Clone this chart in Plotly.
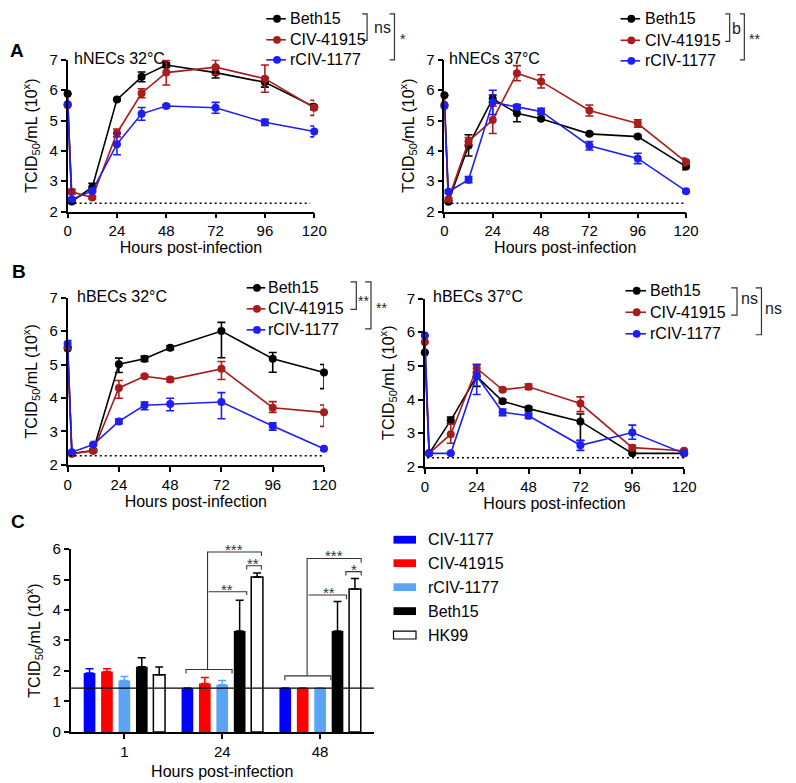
import plotly.graph_objects as go

W, H = 796, 783
FONT = "Liberation Sans, Arial, Helvetica, sans-serif"

# ---------------- data ----------------
hours = [0, 2, 12, 24, 36, 48, 72, 96, 120]
strains = ["Beth15", "CIV-41915", "rCIV-1177"]
line_colors = {"Beth15": "#000000", "CIV-41915": "#A81C1C", "rCIV-1177": "#1E1EF0"}
LOD_AB = 2.27

# A left: hNECs 32 C
nec32 = {
    "Beth15":    [5.88, 2.33, 2.80, 5.69, 6.44, 6.83, 6.58, 6.26, 5.45],
    "CIV-41915": [5.50, 2.65, 2.46, 4.59, 5.90, 6.58, 6.76, 6.38, 5.42],
    "rCIV-1177": [5.54, 2.40, 2.68, 4.22, 5.22, 5.48, 5.42, 4.94, 4.64],
}
nec32_up = {
    "Beth15":    [0, 0.05, 0.13, 0.03, 0.16, 0.08, 0.18, 0.16, 0.10],
    "CIV-41915": [0, 0.08, 0.05, 0.13, 0.15, 0.41, 0.24, 0.45, 0.25],
    "rCIV-1177": [0, 0.05, 0.05, 0.35, 0.21, 0.05, 0.18, 0.10, 0.18],
}
nec32_dn = nec32_up

# A right: hNECs 37 C
nec37 = {
    "Beth15":    [5.83, 2.32, 4.18, 5.72, 5.24, 5.06, 4.56, 4.47, 3.48],
    "CIV-41915": [5.52, 2.40, 4.32, 5.02, 6.56, 6.29, 5.33, 4.90, 3.63],
    "rCIV-1177": [5.48, 2.65, 3.05, 5.60, 5.45, 5.30, 4.17, 3.75, 2.67],
}
nec37_up = {
    "Beth15":    [0, 0.04, 0.35, 0.12, 0.28, 0.05, 0.04, 0.04, 0.10],
    "CIV-41915": [0, 0.05, 0.12, 0.45, 0.25, 0.22, 0.18, 0.12, 0.13],
    "rCIV-1177": [0, 0.05, 0.10, 0.40, 0.08, 0.10, 0.14, 0.17, 0.05],
}
nec37_dn = nec37_up

# B left: hBECs 32 C
bec32 = {
    "Beth15":    [5.48, 2.34, 2.43, 5.01, 5.17, 5.50, 6.00, 5.17, 4.76],
    "CIV-41915": [5.52, 2.33, 2.42, 4.30, 4.65, 4.55, 4.87, 3.71, 3.57],
    "rCIV-1177": [5.62, 2.38, 2.61, 3.30, 3.78, 3.82, 3.88, 3.16, 2.48],
}
bec32_up = {
    "Beth15":    [0, 0.03, 0.04, 0.18, 0.08, 0.06, 0.26, 0.19, 0.24],
    "CIV-41915": [0, 0.03, 0.03, 0.22, 0.04, 0.06, 0.22, 0.18, 0.22],
    "rCIV-1177": [0.10, 0.03, 0.03, 0.07, 0.10, 0.17, 0.28, 0.10, 0.05],
}
bec32_dn = {
    "Beth15":    [0, 0.03, 0.04, 0.25, 0.08, 0.06, 0.80, 0.40, 0.48],
    "CIV-41915": [0, 0.03, 0.03, 0.31, 0.04, 0.06, 0.32, 0.14, 0.42],
    "rCIV-1177": [0.10, 0.03, 0.03, 0.07, 0.13, 0.20, 0.50, 0.12, 0.05],
}

# B right: hBECs 37 C
bec37 = {
    "Beth15":    [5.40, 2.40, 3.38, 4.69, 3.95, 3.73, 3.35, 2.40, 2.40],
    "CIV-41915": [5.71, 2.40, 2.97, 4.93, 4.29, 4.38, 3.88, 2.57, 2.48],
    "rCIV-1177": [5.90, 2.40, 2.40, 4.70, 3.62, 3.52, 2.64, 3.02, 2.40],
}
bec37_up = {
    "Beth15":    [0, 0, 0.10, 0.10, 0.05, 0.06, 0.22, 0, 0],
    "CIV-41915": [0, 0, 0.30, 0.10, 0.05, 0.08, 0.20, 0.07, 0.04],
    "rCIV-1177": [0, 0, 0, 0.35, 0.10, 0.08, 0.15, 0.22, 0],
}
bec37_dn = {
    "Beth15":    [0, 0, 0.10, 0.30, 0.05, 0.06, 0.57, 0, 0],
    "CIV-41915": [0, 0, 0.27, 0.10, 0.05, 0.08, 0.24, 0.07, 0.04],
    "rCIV-1177": [0, 0, 0, 0.55, 0.10, 0.08, 0.15, 0.20, 0],
}

# C: bar chart
hours_c = ["1", "24", "48"]
c_series = ["CIV-1177", "CIV-41915", "rCIV-1177", "Beth15", "HK99"]
c_vals = {
    "CIV-1177":  [1.93, 1.44, 1.44],
    "CIV-41915": [1.98, 1.59, 1.44],
    "rCIV-1177": [1.69, 1.55, 1.44],
    "Beth15":    [2.14, 3.31, 3.31],
    "HK99":      [1.88, 5.08, 4.69],
}
c_err = {
    "CIV-1177":  [0.14, 0, 0],
    "CIV-41915": [0.09, 0.20, 0],
    "rCIV-1177": [0.13, 0.14, 0],
    "Beth15":    [0.29, 1.01, 0.97],
    "HK99":      [0.25, 0.13, 0.34],
}
c_fill = {"CIV-1177": "#0000FF", "CIV-41915": "#FF0000", "rCIV-1177": "#5BA4F4",
          "Beth15": "#000000", "HK99": "#FFFFFF"}
c_err_col = {"CIV-1177": "#0000FF", "CIV-41915": "#FF0000", "rCIV-1177": "#5BA4F4",
             "Beth15": "#000000", "HK99": "#000000"}
LOD_C = 1.44

# ---------------- helpers ----------------
def X(px):
    return px / W

def Y(py):
    return 1 - py / H

fig = go.Figure()

panels = [
    ("x", "y", nec32, nec32_up, nec32_dn),
    ("x2", "y2", nec37, nec37_up, nec37_dn),
    ("x3", "y3", bec32, bec32_up, bec32_dn),
    ("x4", "y4", bec37, bec37_up, bec37_dn),
]

for xa, ya, vals, up, dn in panels:
    for s in strains:
        fig.add_trace(go.Scatter(
            x=hours, y=vals[s], name=s, mode="lines+markers",
            xaxis=xa, yaxis=ya, showlegend=False,
            line=dict(color=line_colors[s], width=1.6),
            marker=dict(color=line_colors[s], size=8),
            error_y=dict(type="data", symmetric=False, array=up[s], arrayminus=dn[s],
                         color=line_colors[s], thickness=1.6, width=4),
            cliponaxis=False,
        ))

for s in c_series:
    fig.add_trace(go.Bar(
        x=list(range(len(hours_c))), y=c_vals[s], name=s, xaxis="x5", yaxis="y5",
        marker=dict(color=c_fill[s], line=dict(color="#000000", width=1.5 if s == "HK99" else 0)),
        error_y=dict(type="data", symmetric=False, array=c_err[s], arrayminus=[0] * len(hours_c),
                     color=c_err_col[s], thickness=1.5, width=4),
        showlegend=False,
    ))

axis_style = dict(showline=True, linecolor="black", linewidth=1.5, ticks="outside",
                  ticklen=5, tickwidth=1.5, tickcolor="black", showgrid=False,
                  zeroline=False, tickfont=dict(size=15, color="black", family=FONT))
ytitle = dict(text="TCID<sub>50</sub>/mL (10<sup>x</sup>)", font=dict(size=16, color="black", family=FONT), standoff=8)
xtitle = dict(text="Hours post-infection", font=dict(size=16, color="black", family=FONT), standoff=2)
xtitle_c = dict(xtitle, standoff=7)

doms = {
    "1": ([X(65), X(317)], [Y(207), Y(52)]),
    "2": ([X(450), X(697)], [Y(207), Y(52)]),
    "3": ([X(65), X(327)], [Y(466), Y(295)]),
    "4": ([X(430), X(695)], [Y(468), Y(296)]),
}
for k, (xd, yd) in doms.items():
    sx = "" if k == "1" else k
    fig.update_layout(**{
        f"xaxis{sx}": dict(axis_style, domain=xd, range=[0, 120], tickvals=[0, 24, 48, 72, 96, 120],
                           anchor=f"y{sx}", title=xtitle),
        f"yaxis{sx}": dict(axis_style, domain=yd, range=[2, 7], tickvals=[2, 3, 4, 5, 6, 7],
                           anchor=f"x{sx}", title=ytitle),
    })

fig.update_layout(
    xaxis5=dict(axis_style, domain=[X(68), X(378)], range=[-0.55, 2.55],
                tickvals=list(range(len(hours_c))), ticktext=hours_c, anchor="y5", title=xtitle_c),
    yaxis5=dict(axis_style, domain=[Y(739), Y(552)], range=[0, 6], tickvals=[0, 1, 2, 3, 4, 5, 6],
                anchor="x5", title=ytitle),
    barmode="group", bargap=0.11, bargroupgap=0.33,
)

shapes = []
ann = []

def ptext(t, px, py, size=16, xanchor="center", bold=False, color="black"):
    ann.append(dict(text=f"<b>{t}</b>" if bold else t, x=X(px), y=Y(py), xref="paper", yref="paper",
                    xanchor=xanchor, yanchor="middle", showarrow=False,
                    font=dict(size=size, color=color, family=FONT)))

# detection limit lines
for xa, ya, x1 in [("x", "y", 118), ("x2", "y2", 120), ("x3", "y3", 119), ("x4", "y4", 124)]:
    shapes.append(dict(type="line", xref=xa, yref=ya, x0=1, x1=x1, y0=LOD_AB, y1=LOD_AB,
                       line=dict(color="black", width=1.5, dash="2px,3px")))
shapes.append(dict(type="line", xref="x5 domain", yref="y5", x0=0, x1=1, y0=LOD_C, y1=LOD_C,
                   line=dict(color="black", width=1.2)))

# line-panel legends (line + dot + label), positions in pixels
legend_boxes = [
    (268, 288, 290, [10, 31.5, 52]),
    (630, 650, 653, [10, 32, 53]),
    (248, 267, 268, [285, 306.5, 328]),
    (635, 656, 658, [288, 310, 332]),
]
for lx0, lx1, tx, ys in legend_boxes:
    for s, cy in zip(strains, ys):
        c = line_colors[s]
        shapes.append(dict(type="line", xref="paper", yref="paper", x0=X(lx0), x1=X(lx1),
                           y0=Y(cy), y1=Y(cy), line=dict(color=c, width=1.6)))
        mx = (lx0 + lx1) / 2 + 1
        shapes.append(dict(type="circle", xref="paper", yref="paper", x0=X(mx - 4), x1=X(mx + 4),
                           y0=Y(cy + 4), y1=Y(cy - 4), fillcolor=c, line=dict(color=c, width=0)))
        ptext(s, tx, cy, xanchor="left")

# legend-side significance brackets
def pbracket(xv, y0, y1, xl):
    return dict(type="path", xref="paper", yref="paper",
                path=f"M{X(xl)},{Y(y0)} L{X(xv)},{Y(y0)} L{X(xv)},{Y(y1)} L{X(xl)},{Y(y1)}",
                line=dict(color="#333333", width=1.2))

for b in [(371, 5, 32, 366), (399, 5, 52, 394),
          (741.5, 5, 33, 737), (756.5, 5, 52, 752),
          (360, 279, 307, 354), (375, 279, 327, 369),
          (749, 285, 313, 743), (774, 285, 333, 768)]:
    shapes.append(pbracket(*b))

# C significance brackets (data coords)
def dpath(pts):
    d = "M" + " L".join(f"{x},{y}" for x, y in pts)
    return dict(type="path", xref="x5", yref="y5", path=d, line=dict(color="#333333", width=1.1))

c_brackets = [
    [(0.63, 1.92), (0.63, 2.05), (1.10, 2.05), (1.10, 1.92)],
    [(0.85, 2.05), (0.85, 5.90), (1.40, 5.90), (1.40, 5.77)],
    [(1.25, 5.33), (1.25, 5.45), (1.40, 5.45), (1.40, 5.33)],
    [(0.86, 4.60), (1.25, 4.60), (1.25, 4.49)],
    [(1.64, 1.70), (1.64, 1.84), (2.11, 1.84), (2.11, 1.70)],
    [(1.867, 1.84), (1.867, 5.69), (2.42, 5.69), (2.42, 5.55)],
    [(2.263, 5.13), (2.263, 5.26), (2.42, 5.26), (2.42, 5.13)],
    [(1.883, 4.49), (2.27, 4.49), (2.27, 4.35)],
]
for pts in c_brackets:
    shapes.append(dpath(pts))

# C legend swatches
c_leg_y = [542.5, 566.5, 591, 615.5, 640]
for s, cy in zip(c_series, c_leg_y):
    shapes.append(dict(type="rect", xref="paper", yref="paper", x0=X(398), x1=X(421),
                       y0=Y(cy + 4), y1=Y(cy - 4), fillcolor=c_fill[s],
                       line=dict(color="black" if s == "HK99" else c_fill[s], width=1.2 if s == "HK99" else 0)))
    ptext(s, 431, cy, xanchor="left")

fig.update_layout(shapes=shapes)

ptext("A", 13, 42, size=19, bold=True)
ptext("B", 15, 268, size=19, bold=True)
ptext("C", 14, 524, size=19, bold=True)
ptext("hNECs 32°C", 69, 51, xanchor="left")
ptext("hNECs 37°C", 453, 51, xanchor="left")
ptext("hBECs 32°C", 72.5, 294, xanchor="left")
ptext("hBECs 37°C", 436.5, 294, xanchor="left")

ptext("ns", 387, 19, color="#222")
ptext("*", 408, 31, size=14, color="#222")
ptext("b", 748, 20, color="#222")
ptext("**", 767, 31, size=14, color="#222")
ptext("**", 367, 298, size=14, color="#222")
ptext("**", 386, 306, size=14, color="#222")
ptext("ns", 762, 296, color="#222")
ptext("ns", 786, 306, color="#222")

def dtext(t, x, y):
    ann.append(dict(text=t, x=x, y=y, xref="x5", yref="y5", xanchor="center", yanchor="bottom",
                    yshift=-8, showarrow=False, font=dict(size=15, color="#333333", family=FONT)))

dtext("***", 1.125, 5.90)
dtext("**", 1.317, 5.45)
dtext("**", 1.053, 4.60)
dtext("***", 2.145, 5.69)
dtext("*", 2.345, 5.26)
dtext("**", 2.087, 4.49)

fig.update_layout(annotations=ann)

fig.update_layout(
    width=W, height=H, margin=dict(l=0, r=0, t=0, b=0),
    paper_bgcolor="white", plot_bgcolor="white",
    font=dict(family=FONT, color="black"),
)

fig.write_html("out.html")
